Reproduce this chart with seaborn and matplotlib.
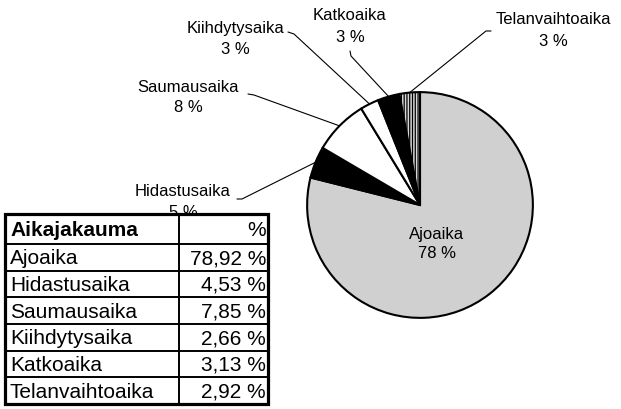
import numpy as np
import matplotlib
matplotlib.use("Agg")
import matplotlib.pyplot as plt
import seaborn as sns
from matplotlib.lines import Line2D
from matplotlib.patches import Rectangle

# ---------------- data ----------------
categories = ["Ajoaika", "Hidastusaika", "Saumausaika", "Kiihdytysaika", "Katkoaika", "Telanvaihtoaika"]
shares = [78.92, 4.53, 7.85, 2.66, 3.13, 2.92]
table_values = ["78,92 %", "4,53 %", "7,85 %", "2,66 %", "3,13 %", "2,92 %"]
pie_pct_labels = ["78 %", "5 %", "8 %", "3 %", "3 %", "3 %"]
table_title = "Aikajakauma"
table_unit = "%"

# ---------------- style ----------------
sns.set_theme(style="white")
plt.rcParams["font.family"] = ["Liberation Sans", "DejaVu Sans"]
plt.rcParams["hatch.linewidth"] = 0.9

W, H = 621, 410
fig = plt.figure(figsize=(W / 100, H / 100), dpi=100)
fig.patch.set_facecolor("white")


def px_box(x0, y0, x1, y1):
    return [x0 / W, 1 - y1 / H, (x1 - x0) / W, (y1 - y0) / H]


# overlay in pixel coordinates (labels + leader lines)
ax_over = fig.add_axes([0, 0, 1, 1], zorder=0)
ax_over.set_xlim(0, W)
ax_over.set_ylim(H, 0)
ax_over.axis("off")

# ---------------- pie ----------------
ax_pie = fig.add_axes(px_box(306, 92, 534, 320), zorder=1)
fills = ["#d0d0d0", "black", "white", "white", "black", "#d8d8d8"]
hatches = [None, None, None, None, None, "||||||"]
wedges, _ = ax_pie.pie(shares, startangle=90, counterclock=False, colors=fills,
                       wedgeprops=dict(edgecolor="black", linewidth=1.5))
for w, h in zip(wedges, hatches):
    if h:
        w.set_hatch(h)
ax_pie.set_xlim(-1.01, 1.01)
ax_pie.set_ylim(-1.01, 1.01)
ax_pie.set_frame_on(False)
ax_pie.patch.set_visible(False)

# outer labels: (center x, first line y), leader start, elbow
label_layout = {
    "Hidastusaika": ((183, 192), (237, 200), (242, 200)),
    "Saumausaika": ((188, 87), (248, 95), (254, 96)),
    "Kiihdytysaika": ((235, 28), (288, 33), (294, 35)),
    "Katkoaika": ((350, 16), (350, 52), (351, 57)),
    "Telanvaihtoaika": ((553, 20), (491, 32), (486, 32)),
}
inner_label_px = (437, 234)
fs_lab = 12

to_over = ax_over.transData.inverted()
to_pie = ax_pie.transData.inverted()
for w, cat, pct in zip(wedges, categories, pie_pct_labels):
    if cat == "Ajoaika":
        for k, s in enumerate([cat, pct]):
            disp = ax_over.transData.transform((inner_label_px[0], inner_label_px[1] + 20 * k))
            px, py = to_pie.transform(disp)
            ax_pie.text(px, py, s, ha="center", va="center", fontsize=fs_lab,
                        color="black", zorder=5)
        continue
    (tx, ty), start, elbow = label_layout[cat]
    ax_over.text(tx, ty, cat, ha="center", va="center", fontsize=fs_lab, color="black")
    ax_over.text(tx, ty + 21, pct, ha="center", va="center", fontsize=fs_lab, color="black")
    mid = np.deg2rad((w.theta1 + w.theta2) / 2)
    edge_disp = ax_pie.transData.transform((np.cos(mid), np.sin(mid)))
    ex, ey = to_over.transform(edge_disp)
    ax_over.add_line(Line2D([start[0], elbow[0], ex], [start[1], elbow[1], ey],
                            color="black", lw=0.8))

# ---------------- table ----------------
ax_tab = fig.add_axes(px_box(5, 215, 268, 405), zorder=2)
tw, th = 263, 190
ax_tab.set_xlim(0, tw)
ax_tab.set_ylim(th, 0)
ax_tab.axis("off")
ax_tab.add_patch(Rectangle((0, 0), tw, th, facecolor="white", edgecolor="none", zorder=0))

header_h = 30
row_h = (th - header_h) / len(categories)
edges = [0, header_h] + [header_h + row_h * (i + 1) for i in range(len(categories))]
col_div = 174
fs_tab = 15

for y in edges[1:-1]:
    ax_tab.plot([0, tw], [y, y], color="black", lw=1.4, clip_on=False, zorder=2)
ax_tab.plot([col_div, col_div], [0, th], color="black", lw=1.4, clip_on=False, zorder=2)
ax_tab.add_patch(Rectangle((0, 0), tw, th, facecolor="none", edgecolor="black",
                           lw=2.3, clip_on=False, zorder=3))

ax_tab.text(5, header_h / 2 + 1, table_title, ha="left", va="center",
            fontsize=fs_tab, fontweight="bold", color="black")
ax_tab.text(tw - 2, header_h / 2 + 1, table_unit, ha="right", va="center",
            fontsize=fs_tab, color="black")
for i, (cat, val) in enumerate(zip(categories, table_values)):
    yc = header_h + row_h * (i + 0.5) + 0.5
    ax_tab.text(5, yc, cat, ha="left", va="center", fontsize=fs_tab, color="black")
    ax_tab.text(tw - 2, yc, val, ha="right", va="center", fontsize=fs_tab, color="black")

fig.savefig("out.png", dpi=100, facecolor="white")
